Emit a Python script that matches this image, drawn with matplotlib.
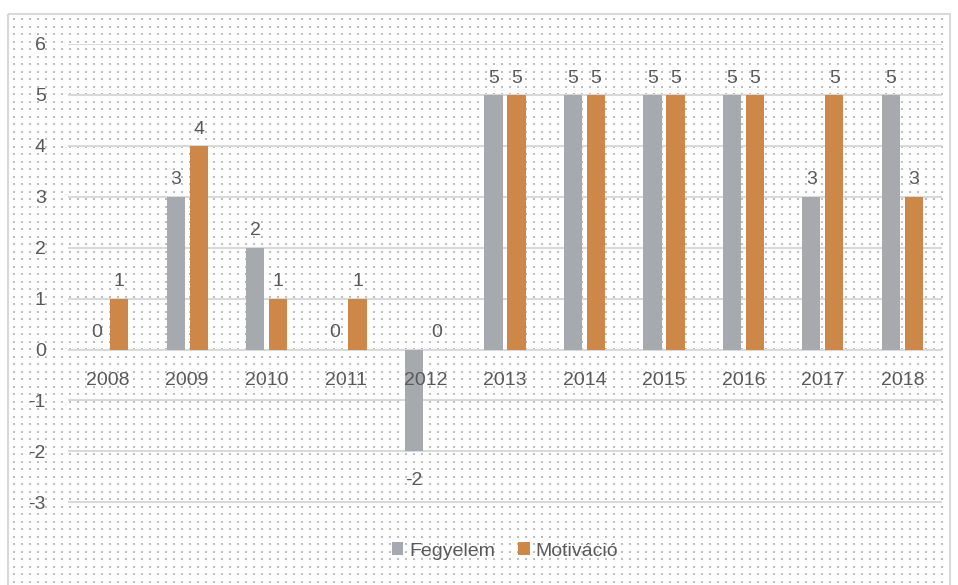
import numpy as np
import matplotlib
matplotlib.use("Agg")
import matplotlib.pyplot as plt
from matplotlib.patches import Rectangle

years = ["2008", "2009", "2010", "2011", "2012", "2013", "2014", "2015", "2016", "2017", "2018"]
fegyelem = [0, 3, 2, 0, -2, 5, 5, 5, 5, 3, 5]
motivacio = [1, 4, 1, 1, 0, 5, 5, 5, 5, 5, 3]

plt.rcParams['font.family'] = ['Liberation Sans', 'DejaVu Sans']
plt.rcParams['axes.unicode_minus'] = False
txt = '#595959'
fs = 14
W, H = 958, 585

fig = plt.figure(figsize=(W / 100, H / 100), dpi=100)

# background: border + dotted pattern
bg = fig.add_axes([0, 0, 1, 1], zorder=-1)
bg.set_xlim(0, W); bg.set_ylim(H, 0); bg.axis('off')
gx, gy = np.meshgrid(np.arange(14, W - 10, 8), np.arange(19, H, 7.5))
bg.scatter(gx.ravel(), gy.ravel(), s=1.0, marker='s', color='#bdbdbd', linewidths=0)
bg.add_patch(Rectangle((8, 14), 942, 590, fill=False, edgecolor='#d9d9d9', lw=1.5))

ax = fig.add_axes([68 / W, 1 - 517.6 / H, (942 - 68) / W, (517.6 - 44) / H])
ax.patch.set_alpha(0)
x = np.arange(len(years))
w = 0.23
b1 = ax.bar(x - 0.145, fegyelem, w, color='#a6a9ae', label='Fegyelem', zorder=3)
b2 = ax.bar(x + 0.145, motivacio, w, color='#cd8748', label='Motiváció', zorder=3)

for bars, vals in ((b1, fegyelem), (b2, motivacio)):
    for r, v in zip(bars, vals):
        cx = r.get_x() + r.get_width() / 2
        if v < 0:
            ax.annotate(str(v), (cx, v), xytext=(0, -15), textcoords='offset points',
                        ha='center', va='top', fontsize=fs, color=txt)
        else:
            ax.annotate(str(v), (cx, v), xytext=(0, 6), textcoords='offset points',
                        ha='center', va='bottom', fontsize=fs, color=txt)

for i, y in enumerate(years):
    ax.annotate(y, (i, 0), xytext=(0, -22), textcoords='offset points',
                ha='center', va='center', fontsize=fs, color=txt)

ax.set_xlim(-0.5, len(years) - 0.5)
ax.set_ylim(-3.3, 6)
ax.set_yticks(range(-3, 7))
ax.set_xticks([])
ax.yaxis.grid(True, color='#d9d9d9', lw=1.5, zorder=0)
ax.tick_params(axis='y', length=0, pad=16, labelsize=fs, labelcolor=txt)
for s in ax.spines.values():
    s.set_visible(False)

fig.legend(handles=[b1, b2], loc='center', bbox_to_anchor=(505 / W, 1 - 551 / H), ncol=2,
           frameon=False, fontsize=fs, labelcolor=txt, handlelength=0.6, handleheight=0.6,
           handletextpad=0.3, columnspacing=1.2)

fig.savefig('out.png', dpi=100)
